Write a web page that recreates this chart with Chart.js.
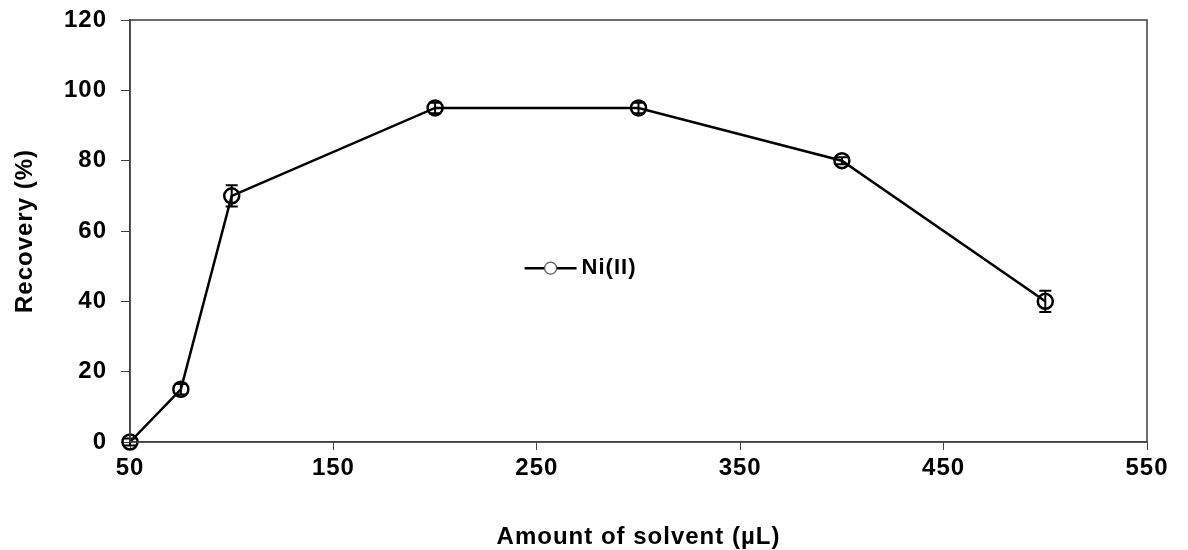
<!DOCTYPE html>
<html>
<head>
<meta charset="utf-8">
<script src="https://cdn.jsdelivr.net/npm/chart.js@4.4.1/dist/chart.umd.min.js"></script>
<style>
	html, body { margin: 0; padding: 0; background: #fff; }
	#wrap { width: 1188px; height: 550px; }
</style>
</head>
<body>
<div id="wrap"><canvas id="chart" width="1188" height="550"></canvas></div>
<script>
'use strict';

// amount of solvent (µL)
const solvent = [50, 75, 100, 200, 300, 400, 500];
// recovery (%) of Ni(II)
const recovery = [0, 15, 70, 95, 95, 80, 40];
// error bar half heights
const errors = [1, 1.5, 3, 1.5, 1.5, 1, 3];
// x tick labels
const xTicks = [50, 150, 250, 350, 450, 550];

const seriesLabel = 'Ni(II)';
const xTitle = 'Amount of solvent (µL)';
const yTitle = 'Recovery (%)';

const axisColor = '#404040';
const fontFamily = '"Liberation Sans", Arial, sans-serif';

// text in the reference is a bit wider than plain Arial bold
const spacingPlugin = {
	id: 'spacing',
	beforeDraw: chart => {
		chart.ctx.letterSpacing = '1px';
	}
};

// box round the plot area
const boxPlugin = {
	id: 'box',
	afterDraw: chart => {
		const { ctx, chartArea: a } = chart;
		ctx.save();
		ctx.strokeStyle = axisColor;
		ctx.lineWidth = 1.5;
		ctx.strokeRect(a.left, a.top, a.right - a.left, a.bottom - a.top);
		ctx.restore();
	}
};

// error bars, drawn through the scales
const errorBarPlugin = {
	id: 'errorBars',
	afterDatasetsDraw: chart => {
		const { ctx, scales } = chart;
		ctx.save();
		ctx.strokeStyle = '#000';
		ctx.lineWidth = 2;
		solvent.forEach((x, i) => {
			const px = scales.x.getPixelForValue(x);
			const top = scales.y.getPixelForValue(recovery[i] + errors[i]);
			const bot = scales.y.getPixelForValue(recovery[i] - errors[i]);
			ctx.beginPath();
			ctx.moveTo(px, top);
			ctx.lineTo(px, bot);
			ctx.moveTo(px - 6, top);
			ctx.lineTo(px + 6, top);
			ctx.moveTo(px - 6, bot);
			ctx.lineTo(px + 6, bot);
			ctx.stroke();
		});
		ctx.restore();
	}
};

// legend sitting inside the plot area
const innerLegendPlugin = {
	id: 'innerLegend',
	afterDraw: chart => {
		const { ctx, chartArea: a } = chart;
		const x0 = a.left + (a.right - a.left) * 0.388;
		const y0 = a.top + (a.bottom - a.top) * 0.588;
		ctx.save();
		ctx.strokeStyle = '#000';
		ctx.lineWidth = 2.5;
		ctx.beginPath();
		ctx.moveTo(x0, y0);
		ctx.lineTo(x0 + 52, y0);
		ctx.stroke();
		ctx.fillStyle = '#fff';
		ctx.strokeStyle = '#555';
		ctx.lineWidth = 1.2;
		ctx.beginPath();
		ctx.arc(x0 + 26, y0, 6, 0, Math.PI * 2);
		ctx.fill();
		ctx.stroke();
		ctx.fillStyle = '#000';
		ctx.font = 'bold 22px ' + fontFamily;
		ctx.textBaseline = 'middle';
		ctx.fillText(seriesLabel, x0 + 57, y0);
		ctx.restore();
	}
};

new Chart(document.getElementById('chart').getContext('2d'), {
	type: 'line',
	data: {
		datasets: [
			{
				label: seriesLabel,
				data: solvent.map((x, i) => ({ x: x, y: recovery[i] })),
				borderColor: '#000',
				borderWidth: 2.5,
				tension: 0,
				clip: false,
				pointRadius: 7.5,
				pointBorderWidth: 2.5,
				pointBorderColor: '#000',
				pointBackgroundColor: 'rgba(255,255,255,0)'
			}
		]
	},
	options: {
		responsive: false,
		animation: false,
		layout: {
			padding: { left: 7, right: 41, top: 20, bottom: 0 }
		},
		plugins: {
			legend: { display: false },
			tooltip: { enabled: false }
		},
		scales: {
			x: {
				type: 'linear',
				min: 50,
				max: 550,
				afterBuildTicks: scale => {
					scale.ticks = xTicks.map(v => ({ value: v }));
				},
				afterFit: scale => {
					scale.height = 108;
					scale.paddingLeft = 0;
					scale.paddingRight = 0;
				},
				grid: {
					drawOnChartArea: false,
					drawTicks: true,
					tickLength: 8,
					color: axisColor
				},
				border: { display: true, color: axisColor, width: 1.5 },
				ticks: {
					color: '#000',
					padding: 4,
					font: { family: fontFamily, size: 24, weight: 'bold' }
				},
				title: {
					display: true,
					text: xTitle,
					color: '#000',
					padding: { top: 4, bottom: -2 },
					font: { family: fontFamily, size: 24, weight: 'bold' }
				}
			},
			y: {
				min: 0,
				max: 120,
				afterFit: scale => {
					scale.width = 123;
					scale.paddingTop = 0;
					scale.paddingBottom = 0;
				},
				ticks: {
					stepSize: 20,
					color: '#000',
					padding: 14,
					font: { family: fontFamily, size: 24, weight: 'bold' }
				},
				grid: {
					drawOnChartArea: false,
					drawTicks: true,
					tickLength: 9,
					color: axisColor
				},
				border: { display: true, color: axisColor, width: 1.5 },
				title: {
					display: true,
					text: yTitle,
					color: '#000',
					font: { family: fontFamily, size: 24, weight: 'bold' }
				}
			}
		}
	},
	plugins: [spacingPlugin, boxPlugin, errorBarPlugin, innerLegendPlugin]
});
</script>
</body>
</html>
